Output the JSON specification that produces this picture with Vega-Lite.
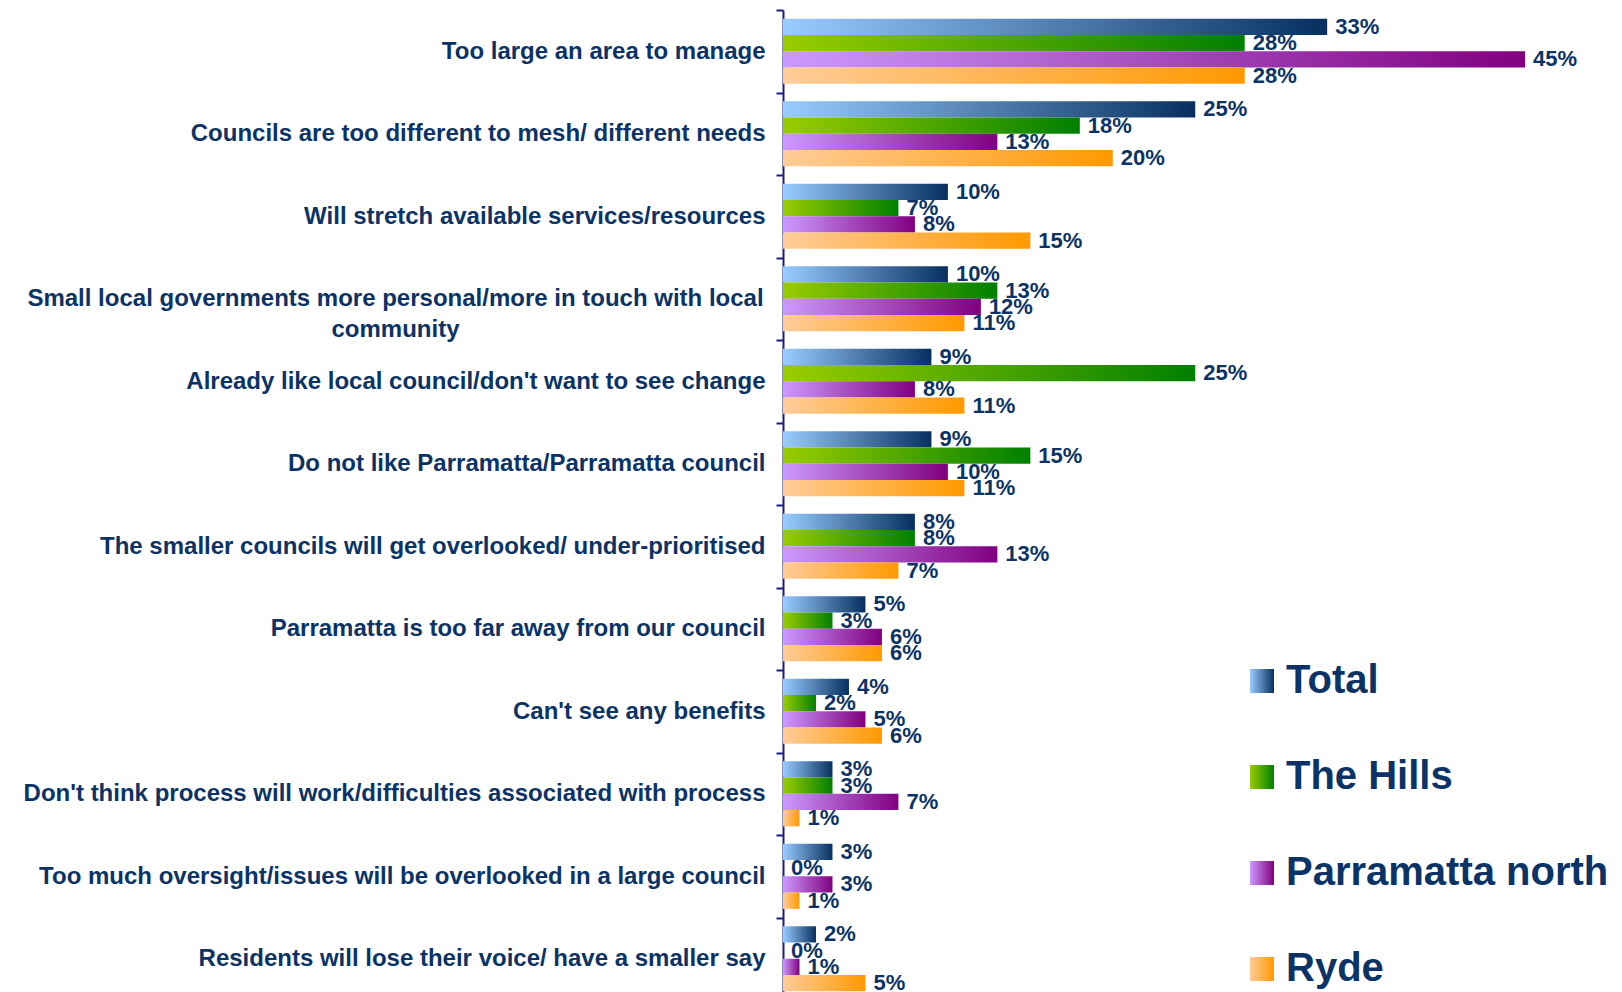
{
  "$schema": "https://vega.github.io/schema/vega-lite/v6.json",
  "autosize": "none",
  "width": 839,
  "height": 982,
  "padding": {"left": 783, "top": 10, "right": 0, "bottom": 0},
  "background": "white",
  "config": {"view": {"stroke": null}, "font": "Liberation Sans"},
  "data": {
    "values": [
      {"reason": "Too large an area to manage", "series": "Total", "value": 0.33},
      {"reason": "Too large an area to manage", "series": "The Hills", "value": 0.28},
      {"reason": "Too large an area to manage", "series": "Parramatta north", "value": 0.45},
      {"reason": "Too large an area to manage", "series": "Ryde", "value": 0.28},
      {"reason": "Councils are too different to mesh/ different needs", "series": "Total", "value": 0.25},
      {"reason": "Councils are too different to mesh/ different needs", "series": "The Hills", "value": 0.18},
      {"reason": "Councils are too different to mesh/ different needs", "series": "Parramatta north", "value": 0.13},
      {"reason": "Councils are too different to mesh/ different needs", "series": "Ryde", "value": 0.20},
      {"reason": "Will stretch available services/resources", "series": "Total", "value": 0.10},
      {"reason": "Will stretch available services/resources", "series": "The Hills", "value": 0.07},
      {"reason": "Will stretch available services/resources", "series": "Parramatta north", "value": 0.08},
      {"reason": "Will stretch available services/resources", "series": "Ryde", "value": 0.15},
      {"reason": "Small local governments more personal/more in touch with local community", "series": "Total", "value": 0.10},
      {"reason": "Small local governments more personal/more in touch with local community", "series": "The Hills", "value": 0.13},
      {"reason": "Small local governments more personal/more in touch with local community", "series": "Parramatta north", "value": 0.12},
      {"reason": "Small local governments more personal/more in touch with local community", "series": "Ryde", "value": 0.11},
      {"reason": "Already like local council/don't want to see change", "series": "Total", "value": 0.09},
      {"reason": "Already like local council/don't want to see change", "series": "The Hills", "value": 0.25},
      {"reason": "Already like local council/don't want to see change", "series": "Parramatta north", "value": 0.08},
      {"reason": "Already like local council/don't want to see change", "series": "Ryde", "value": 0.11},
      {"reason": "Do not like Parramatta/Parramatta council", "series": "Total", "value": 0.09},
      {"reason": "Do not like Parramatta/Parramatta council", "series": "The Hills", "value": 0.15},
      {"reason": "Do not like Parramatta/Parramatta council", "series": "Parramatta north", "value": 0.10},
      {"reason": "Do not like Parramatta/Parramatta council", "series": "Ryde", "value": 0.11},
      {"reason": "The smaller councils will get overlooked/ under-prioritised", "series": "Total", "value": 0.08},
      {"reason": "The smaller councils will get overlooked/ under-prioritised", "series": "The Hills", "value": 0.08},
      {"reason": "The smaller councils will get overlooked/ under-prioritised", "series": "Parramatta north", "value": 0.13},
      {"reason": "The smaller councils will get overlooked/ under-prioritised", "series": "Ryde", "value": 0.07},
      {"reason": "Parramatta is too far away from our council", "series": "Total", "value": 0.05},
      {"reason": "Parramatta is too far away from our council", "series": "The Hills", "value": 0.03},
      {"reason": "Parramatta is too far away from our council", "series": "Parramatta north", "value": 0.06},
      {"reason": "Parramatta is too far away from our council", "series": "Ryde", "value": 0.06},
      {"reason": "Can't see any benefits", "series": "Total", "value": 0.04},
      {"reason": "Can't see any benefits", "series": "The Hills", "value": 0.02},
      {"reason": "Can't see any benefits", "series": "Parramatta north", "value": 0.05},
      {"reason": "Can't see any benefits", "series": "Ryde", "value": 0.06},
      {"reason": "Don't think process will work/difficulties associated with process", "series": "Total", "value": 0.03},
      {"reason": "Don't think process will work/difficulties associated with process", "series": "The Hills", "value": 0.03},
      {"reason": "Don't think process will work/difficulties associated with process", "series": "Parramatta north", "value": 0.07},
      {"reason": "Don't think process will work/difficulties associated with process", "series": "Ryde", "value": 0.01},
      {"reason": "Too much oversight/issues will be overlooked in a large council", "series": "Total", "value": 0.03},
      {"reason": "Too much oversight/issues will be overlooked in a large council", "series": "The Hills", "value": 0.0},
      {"reason": "Too much oversight/issues will be overlooked in a large council", "series": "Parramatta north", "value": 0.03},
      {"reason": "Too much oversight/issues will be overlooked in a large council", "series": "Ryde", "value": 0.01},
      {"reason": "Residents will lose their voice/ have a smaller say", "series": "Total", "value": 0.02},
      {"reason": "Residents will lose their voice/ have a smaller say", "series": "The Hills", "value": 0.0},
      {"reason": "Residents will lose their voice/ have a smaller say", "series": "Parramatta north", "value": 0.01},
      {"reason": "Residents will lose their voice/ have a smaller say", "series": "Ryde", "value": 0.05}
    ]
  },
  "encoding": {
    "y": {
      "field": "reason",
      "type": "nominal",
      "sort": null,
      "scale": {"range": [0, 990], "paddingInner": 0, "paddingOuter": 0},
      "axis": {
        "title": null,
        "grid": false,
        "domainColor": "#1c1c88",
        "domainWidth": 2,
        "tickColor": "#1c1c88",
        "tickWidth": 2,
        "tickSize": 7,
        "tickBand": "extent",
        "labelFont": "Liberation Sans",
        "labelFontSize": 24,
        "labelFontWeight": "bold",
        "labelColor": "#0b3365",
        "labelLimit": 900,
        "labelLineHeight": 31,
        "labelPadding": {"condition": {"test": "datum.value == 'Small local governments more personal/more in touch with local community'", "value": 381}, "value": 11},
        "labelAlign": {"condition": {"test": "datum.value == 'Small local governments more personal/more in touch with local community'", "value": "center"}, "value": "right"},
        "labelExpr": "datum.value == 'Small local governments more personal/more in touch with local community' ? ['Small local governments more personal/more in touch with local', 'community'] : datum.label"
      }
    },
    "yOffset": {
      "field": "series",
      "type": "nominal",
      "scale": {"domain": ["Total", "The Hills", "Parramatta north", "Ryde"], "paddingInner": 0, "paddingOuter": 0.53}
    },
    "x": {
      "field": "value",
      "type": "quantitative",
      "scale": {"domain": [0, 0.5088], "nice": false, "zero": true},
      "axis": null
    }
  },
  "layer": [
    {
      "mark": {"type": "bar", "strokeWidth": 0},
      "encoding": {
        "fill": {
          "field": "series",
          "type": "nominal",
          "scale": {
            "domain": ["Total", "The Hills", "Parramatta north", "Ryde"],
            "range": [
              {"expr": "{gradient: 'linear', x1: 0, y1: 0, x2: 1, y2: 0, stops: [{offset: 0, color: '#99ccff'}, {offset: 1, color: '#07305f'}]}"},
              {"expr": "{gradient: 'linear', x1: 0, y1: 0, x2: 1, y2: 0, stops: [{offset: 0, color: '#99cc00'}, {offset: 1, color: '#008000'}]}"},
              {"expr": "{gradient: 'linear', x1: 0, y1: 0, x2: 1, y2: 0, stops: [{offset: 0, color: '#cc99ff'}, {offset: 1, color: '#800080'}]}"},
              {"expr": "{gradient: 'linear', x1: 0, y1: 0, x2: 1, y2: 0, stops: [{offset: 0, color: '#ffcc99'}, {offset: 1, color: '#ff9900'}]}"}
            ]
          },
          "legend": {
            "title": null,
            "orient": "none",
            "legendX": 459,
            "legendY": 651,
            "symbolType": "square",
            "symbolSize": 576,
            "symbolStrokeWidth": 0,
            "symbolOpacity": 1,
            "labelFont": "Liberation Sans",
            "labelFontSize": 40,
            "labelFontWeight": "bold",
            "labelColor": "#0b3365",
            "labelOffset": 4,
            "labelLimit": 500,
            "rowPadding": 56,
            "padding": 0
          }
        }
      }
    },
    {
      "mark": {"type": "text", "align": "left", "baseline": "middle", "dx": 8, "font": "Liberation Sans", "fontSize": 22, "fontWeight": "bold", "color": "#0b3365"},
      "encoding": {
        "text": {"field": "value", "type": "quantitative", "format": ".0%"}
      }
    }
  ]
}
